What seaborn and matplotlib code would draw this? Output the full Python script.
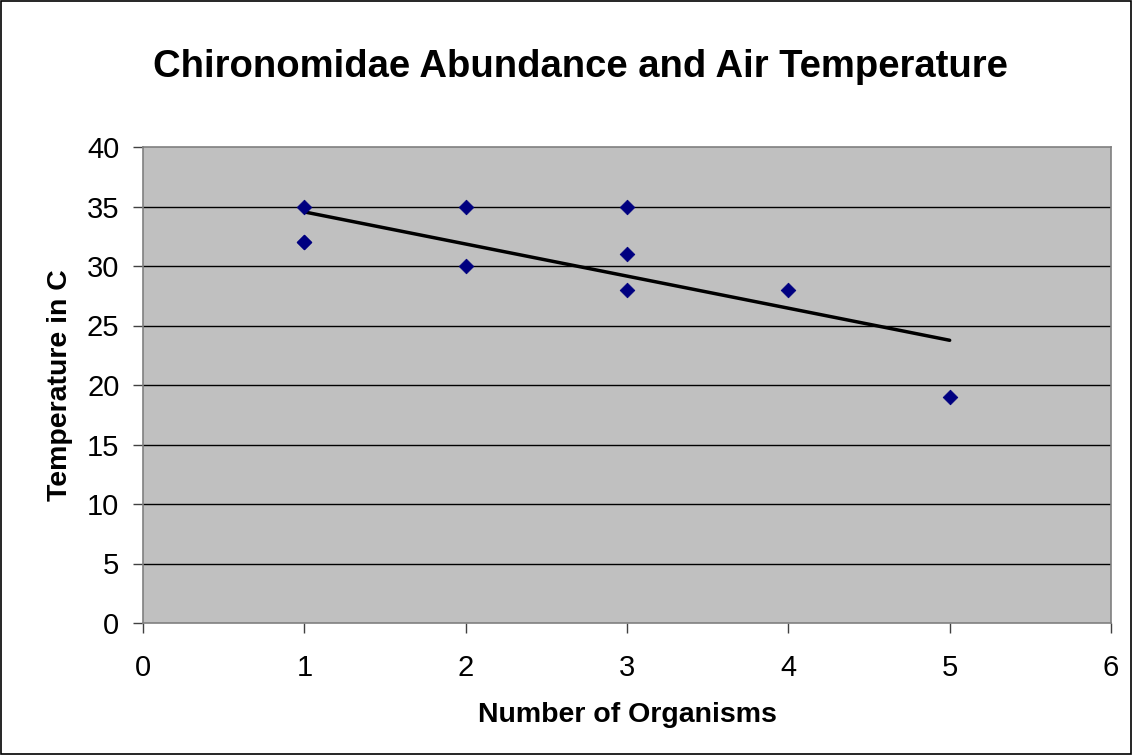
import matplotlib
matplotlib.use("Agg")
import matplotlib.pyplot as plt
import seaborn as sns
import pandas as pd
from matplotlib.patches import Rectangle

# Data (one (1,32) point appears twice in the source, overlapping)
organisms = [1, 1, 1, 2, 2, 3, 3, 3, 4, 5]
temperature = [35, 32, 32, 35, 30, 35, 31, 28, 28, 19]
x_ticks = [0, 1, 2, 3, 4, 5, 6]
y_ticks = [0, 5, 10, 15, 20, 25, 30, 35, 40]

df = pd.DataFrame({"Number of Organisms": organisms, "Temperature in C": temperature})

sns.set_theme(style="white")
plt.rcParams["font.family"] = ["Liberation Sans", "DejaVu Sans"]
plt.rcParams.update({"text.color": "black", "axes.labelcolor": "black",
                     "xtick.color": "black", "ytick.color": "black"})

fig = plt.figure(figsize=(11.33, 7.55), dpi=100)
ax = fig.add_axes([143 / 1133, 1 - 623 / 755, (1111 - 143) / 1133, (623 - 147) / 755])
ax.set_facecolor("#C0C0C0")

ax.set_xlim(0, 6)
ax.set_ylim(0, 40)
ax.set_xticks(x_ticks)
ax.set_yticks(y_ticks)
for y in y_ticks[1:-1]:
    ax.axhline(y, color="black", lw=1.0, zorder=1)

sns.regplot(data=df, x="Number of Organisms", y="Temperature in C", ax=ax,
            scatter=False, ci=None, line_kws=dict(color="black", lw=2.5, zorder=3))
sns.scatterplot(data=df, x="Number of Organisms", y="Temperature in C", ax=ax,
                marker="D", s=55, color="#000080", edgecolor="#000080", zorder=4)

for s in ax.spines.values():
    s.set_color("#808080")
    s.set_linewidth(1.2)

ax.tick_params(axis="both", which="major", direction="out", length=7, width=1,
               color="#404040", labelsize=21, left=True, bottom=True)
ax.tick_params(axis="x", pad=15)
ax.tick_params(axis="y", pad=10)
ax.set_xlabel("Number of Organisms", fontsize=20.5, fontweight="bold", labelpad=15)
ax.set_ylabel("Temperature in C", fontsize=20.5, fontweight="bold", labelpad=10)

fig.text(580 / 1133, 1 - 67 / 755, "Chironomidae Abundance and Air Temperature",
         ha="center", va="center", fontsize=27.5, fontweight="bold")

fig.patches.append(Rectangle((0.0005, 0.0007), 0.998, 0.998, transform=fig.transFigure,
                             fill=False, edgecolor="black", lw=1.2))

fig.savefig("out.png", dpi=100)
